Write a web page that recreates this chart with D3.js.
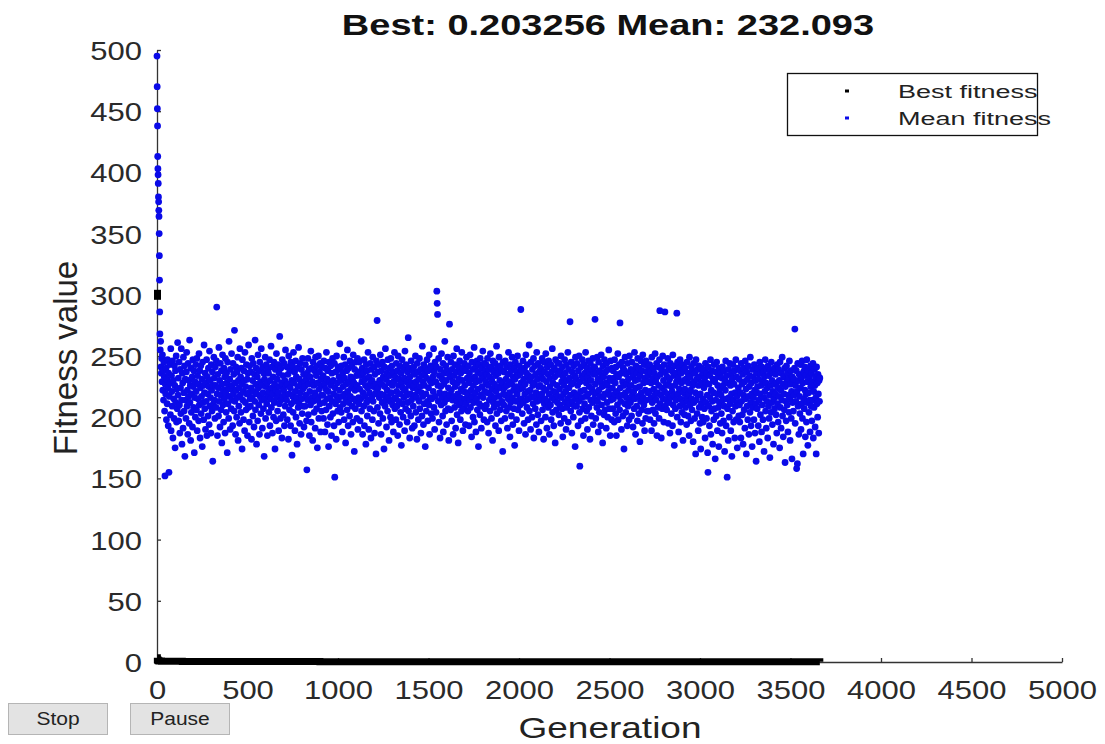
<!DOCTYPE html>
<html>
<head>
<meta charset="utf-8">
<script src="https://cdn.jsdelivr.net/npm/d3@7"></script>
<style>
  html, body { margin: 0; padding: 0; background: #fff; }
  svg { display: block; }
  text { font-family: "Liberation Sans", Arial, sans-serif; }
</style>
</head>
<body>
<svg id="chart" width="1105" height="744"></svg>
<script>
// ---- data -------------------------------------------------------------
// Axis ticks
const xTicks = [0, 500, 1000, 1500, 2000, 2500, 3000, 3500, 4000, 4500, 5000];
const yTicks = [0, 50, 100, 150, 200, 250, 300, 350, 400, 450, 500];

// Best fitness: generation at which the best value changed, and that value
const bestGen = [0, 1, 2, 4, 7, 12, 25, 60, 140, 380, 900, 1700, 2600, 3662];
const bestVal = [300, 3.4, 1.9, 1.35, 1.02, 0.81, 0.64, 0.52, 0.41, 0.33, 0.27, 0.23, 0.211, 0.203256];

// Mean fitness, generations 0..15 (one per generation)
const meanHead = [495, 470, 452, 438, 413, 403, 398, 391, 380, 376, 369, 364, 350, 332, 312, 286];

// Mean fitness from generation 16 onward, every second generation
const meanTail = [
268,255,262,241,236,248,229,251,222,238,214,245,233,205,152,227,219,240,198,231,211,247,224,193,236,155,217,243,228,202,256,189,234,221,209,246,183,230,215,199,242,226,175,238,212,250,196,223,207,261,
218,232,197,245,210,187,239,224,203,256,214,178,236,228,191,249,220,205,242,168,231,214,199,237,253,209,222,186,244,217,230,195,263,212,226,181,240,204,219,233,192,247,225,208,238,171,216,229,200,243,
221,206,248,189,234,215,227,197,252,210,238,183,224,242,203,217,231,176,245,212,226,198,259,220,207,236,190,228,213,247,185,233,219,201,240,225,194,254,209,230,216,187,243,222,205,237,164,226,211,249,
232,214,199,241,226,208,246,290,219,185,235,224,201,257,213,230,192,244,218,206,238,179,227,251,210,222,196,240,215,233,187,248,220,204,236,228,171,245,211,224,199,262,217,231,190,239,223,207,252,214,
226,193,244,219,235,205,271,213,228,186,241,222,200,237,216,249,181,230,209,224,195,256,218,233,204,240,227,174,247,214,221,198,238,230,189,253,212,225,206,243,219,231,185,236,208,259,220,196,242,215,
209,237,224,182,248,216,230,201,244,221,192,235,213,263,206,227,240,178,219,233,197,251,224,210,238,186,245,217,229,203,256,214,226,191,241,220,207,236,168,231,215,249,199,225,243,211,228,185,239,218,
236,204,221,247,193,230,215,258,208,224,241,187,219,233,200,245,212,227,174,239,222,197,252,216,231,205,243,220,189,236,211,266,225,199,240,214,228,183,247,217,234,202,222,244,193,230,209,255,218,226,
214,241,198,227,235,182,250,219,206,238,224,193,245,211,230,169,242,217,204,253,228,213,237,189,221,246,200,233,216,178,240,225,208,257,212,231,195,244,220,227,186,239,215,203,248,223,209,235,192,229,
225,209,243,218,231,197,157,236,214,248,202,227,239,185,221,233,210,254,196,240,216,229,181,245,213,226,204,238,220,191,249,217,234,207,242,175,228,214,250,199,223,237,211,244,188,231,218,205,241,226,
218,234,199,246,212,227,188,240,223,206,253,215,231,194,238,221,176,245,209,229,216,200,242,226,185,236,213,248,203,230,219,193,244,151,224,211,237,182,250,217,228,205,241,214,196,233,222,260,208,239,
230,204,242,217,188,236,225,211,249,198,232,219,243,179,227,214,238,206,255,221,193,240,212,229,201,246,217,233,186,224,242,209,231,196,251,215,228,172,239,222,207,245,213,234,199,226,248,190,237,216,
211,245,223,197,234,215,262,205,229,240,186,220,236,209,247,193,231,217,226,178,243,212,238,201,224,253,214,190,233,220,207,244,228,183,239,216,230,198,249,213,225,205,241,187,235,219,227,170,246,222,
279,208,237,224,195,243,216,230,203,251,219,186,238,227,212,245,199,233,218,174,241,225,209,256,214,231,192,236,222,205,247,217,228,181,240,213,234,200,248,220,196,242,226,210,237,188,229,215,253,207,
233,216,198,244,221,209,238,185,250,226,213,231,194,242,219,204,236,177,228,247,211,224,200,239,216,232,189,254,222,207,243,218,229,196,237,212,265,205,226,240,183,233,219,201,246,214,228,191,238,224,
209,241,226,193,235,218,250,204,229,216,182,244,222,237,198,231,213,248,207,225,239,187,220,234,201,258,217,229,194,243,211,226,236,176,240,219,205,232,247,213,197,238,224,210,251,186,230,216,242,203,
228,215,240,199,233,221,256,208,237,190,245,217,229,204,241,303,293,284,226,213,248,196,234,220,183,239,225,210,252,216,231,201,244,188,227,236,212,262,219,205,242,230,194,238,215,249,207,224,181,235,
276,218,233,206,245,222,197,239,214,229,186,250,217,234,208,243,225,191,237,213,256,202,228,219,179,241,231,210,246,216,198,236,223,205,253,212,230,189,240,221,207,244,226,215,194,238,211,249,220,232,
219,205,242,228,193,236,214,251,208,231,222,184,245,217,239,200,226,212,257,196,233,220,241,188,229,215,246,206,237,223,176,243,211,230,202,248,218,235,191,240,225,209,254,216,232,198,244,221,207,238,
229,243,210,235,196,248,220,226,187,239,214,233,205,252,218,241,199,230,223,181,246,212,237,208,227,216,244,193,234,221,258,203,240,225,211,236,189,249,217,230,206,242,224,197,238,213,228,172,245,219,
210,237,224,199,246,218,231,205,241,226,191,235,215,253,208,229,220,184,243,212,238,201,227,249,216,194,233,222,207,240,177,231,245,213,225,198,237,219,250,206,234,214,189,242,223,210,236,288,228,215,
238,203,224,246,212,231,195,240,219,227,186,251,214,236,208,243,221,198,234,215,259,205,230,222,190,245,217,233,200,239,226,211,248,183,228,216,242,207,235,220,194,253,213,231,202,244,225,188,237,218,
226,214,240,197,233,219,248,206,231,224,182,245,211,237,215,200,252,222,229,191,241,213,235,208,246,219,186,232,225,210,243,198,237,216,256,204,228,221,193,240,214,233,179,247,220,206,238,226,212,244,
217,235,202,244,223,210,238,195,250,216,229,207,241,184,233,219,226,199,247,212,236,221,190,243,208,230,215,253,196,239,224,211,232,278,218,205,245,227,187,237,213,228,200,242,220,209,234,176,249,216,
231,209,244,218,226,193,238,213,250,204,160,229,221,241,197,234,216,247,207,232,185,243,222,211,236,199,253,217,228,205,240,190,233,219,246,208,225,237,182,244,214,230,201,239,223,212,248,194,235,220,
215,241,280,227,199,236,220,208,249,213,231,188,245,222,204,238,217,229,193,251,210,234,225,179,242,216,233,202,247,219,206,237,228,191,244,212,226,200,239,221,255,207,232,218,185,246,214,230,198,240,
224,207,238,215,232,196,247,219,228,203,241,185,235,221,210,252,198,233,217,243,206,277,224,213,236,190,245,218,229,201,240,226,174,238,211,249,220,204,235,216,227,193,244,209,231,222,198,250,214,237,
212,239,226,201,245,218,233,192,238,221,207,253,215,230,186,242,224,209,236,197,248,217,231,203,240,225,180,234,213,246,220,206,238,195,251,216,228,210,243,189,232,222,199,246,214,237,205,229,220,241,
234,205,221,243,198,237,216,228,189,249,212,231,206,240,223,195,236,218,252,203,229,214,244,185,233,220,208,241,226,199,247,287,211,235,218,183,239,224,207,250,215,230,196,243,221,286,209,237,226,214,
206,233,219,248,195,227,240,212,231,187,244,216,225,203,238,221,193,251,210,234,218,177,242,226,207,236,214,229,285,200,245,219,232,188,240,223,209,247,215,196,236,228,204,243,212,181,238,220,230,202,
223,240,208,231,216,194,245,213,236,201,228,219,185,249,210,233,222,197,241,215,206,238,226,180,244,212,229,199,236,220,170,247,214,231,203,239,218,189,226,242,208,233,195,219,174,240,211,228,200,236,
215,196,239,224,207,232,183,244,212,228,199,236,218,171,155,241,209,227,193,234,216,247,186,222,205,238,213,178,231,220,198,243,207,229,166,237,214,201,245,219,189,226,233,208,176,240,212,223,195,236,
218,203,232,187,241,214,226,197,238,209,172,230,222,246,193,215,234,151,207,228,181,239,216,200,244,211,226,189,235,219,168,231,205,243,214,196,227,238,183,220,209,247,198,233,217,175,240,212,224,201,
231,210,196,238,220,183,244,213,227,202,235,178,218,240,206,229,191,246,215,223,170,237,209,231,198,242,217,186,225,234,204,249,212,193,228,219,176,239,208,233,216,198,243,222,187,230,211,164,236,220,
207,225,240,193,231,214,180,245,219,202,236,226,188,241,210,229,198,237,216,172,233,221,247,205,228,191,239,213,224,183,242,209,234,199,218,167,238,226,204,245,212,230,194,221,236,178,215,240,207,227,
219,235,202,228,187,243,211,224,196,239,217,230,175,245,208,222,191,236,214,249,201,227,184,233,219,206,240,163,225,213,197,242,229,210,236,188,218,231,204,246,215,181,227,238,199,221,166,233,212,229,
205,231,218,240,272,195,226,213,238,158,221,162,244,209,230,186,235,217,203,243,224,190,232,211,246,199,228,170,237,215,207,241,222,184,234,219,196,247,212,229,177,238,220,204,233,214,188,242,225,209,
236,197,229,214,244,183,221,208,239,226,192,233,216,170,241,211,228,200,235,219,187,230,213,232.093
];

const legendLabels = ["Best fitness", "Mean fitness"];
const buttonLabels = ["Stop", "Pause"];

// ---- build point lists ------------------------------------------------
const meanPoints = meanHead.map((v, i) => ({ gen: i, value: v }))
  .concat(meanTail.map((v, i) => ({ gen: 16 + 2 * i, value: v })));
const bestPoints = bestGen.map((g, i) => ({ gen: g, value: bestVal[i] }));

const lastBest = bestVal[bestVal.length - 1];
const lastMean = meanTail[meanTail.length - 1];

// ---- scales -----------------------------------------------------------
const svg = d3.select("#chart");
const x = d3.scaleLinear().domain([0, 5000]).range([157, 1062]);
const y = d3.scaleLinear().domain([0, 500]).range([662, 50]);

// text helper: anchored text with a vertical squash
function label(parent, str, tx, ty, size, sy, opts = {}) {
  return parent.append("text")
    .attr("transform", `translate(${tx},${ty}) scale(1,${sy})`)
    .attr("font-size", size)
    .attr("text-anchor", opts.anchor || "start")
    .attr("font-weight", opts.weight || "normal")
    .attr("fill", opts.fill || "#222")
    .text(str);
}

// ---- axes -------------------------------------------------------------
const axisColor = "#333";
const fmt = d3.format("d");
const gx = svg.append("g").attr("transform", `translate(0,${y(0)})`)
  .call(d3.axisBottom(x).tickValues(xTicks).tickFormat(fmt)
    .tickSizeInner(-4).tickSizeOuter(0).tickPadding(0));
const gy = svg.append("g").attr("transform", `translate(${x(0)},0)`)
  .call(d3.axisLeft(y).tickValues(yTicks).tickFormat(fmt)
    .tickSizeInner(-4).tickSizeOuter(0).tickPadding(0));

[gx, gy].forEach(g => {
  g.select(".domain").attr("stroke", axisColor).attr("stroke-width", 1.3);
  g.selectAll(".tick line").attr("stroke", axisColor).attr("stroke-width", 1.3);
  g.selectAll(".tick text")
    .attr("font-family", "Liberation Sans, Arial, sans-serif")
    .attr("fill", "#2a2a2a")
    .attr("font-size", 31)
    .attr("dy", null);
});
gx.selectAll(".tick text")
  .attr("y", null)
  .attr("text-anchor", "middle")
  .attr("transform", "translate(0,37) scale(1,0.86)");
gy.selectAll(".tick text")
  .attr("x", null)
  .attr("text-anchor", "end")
  .attr("transform", "translate(-15,9.5) scale(1,0.86)");

// ---- mean fitness points ---------------------------------------------
svg.append("g")
  .selectAll("circle")
  .data(meanPoints)
  .join("circle")
  .attr("cx", d => x(d.gen))
  .attr("cy", d => y(d.value))
  .attr("r", 3.4)
  .attr("fill", "#0a0ae8");

// ---- best fitness -----------------------------------------------------
const bestLine = d3.line()
  .x(d => x(d.gen))
  .y(d => y(d.value))
  .curve(d3.curveStepAfter);

svg.append("path")
  .datum(bestPoints.slice(1))
  .attr("d", bestLine)
  .attr("fill", "none")
  .attr("stroke", "#000")
  .attr("stroke-width", 7);

svg.append("rect")
  .attr("x", x(bestPoints[0].gen) - 3)
  .attr("y", y(bestPoints[0].value) - 5)
  .attr("width", 7)
  .attr("height", 10)
  .attr("fill", "#000");

// ---- title ------------------------------------------------------------
label(svg, `Best: ${lastBest} Mean: ${lastMean}`, 608, 35, 38, 0.8,
  { anchor: "middle", weight: "bold", fill: "#111" });

// ---- axis labels ------------------------------------------------------
label(svg, "Generation", 610, 738, 37, 0.82, { anchor: "middle", fill: "#222" });
svg.append("text")
  .attr("transform", "translate(77,358) rotate(-90)")
  .attr("font-size", 33)
  .attr("text-anchor", "middle")
  .attr("fill", "#222")
  .text("Fitness value");

// ---- legend -----------------------------------------------------------
const legend = svg.append("g");
legend.append("rect")
  .attr("x", 787.5).attr("y", 73.5)
  .attr("width", 250).attr("height", 62)
  .attr("fill", "none").attr("stroke", "#111").attr("stroke-width", 1.3);
const legendColors = ["#000", "#0a0ae8"];
legendLabels.forEach((t, i) => {
  const ly = 91 + i * 27;
  legend.append("rect")
    .attr("x", 845).attr("y", ly - 1.5)
    .attr("width", 4).attr("height", 3)
    .attr("fill", legendColors[i]);
  label(legend, t, 898, ly + 7, 27, 0.67, { fill: "#222" });
});

// ---- buttons ----------------------------------------------------------
const buttonX = [8, 130];
buttonLabels.forEach((t, i) => {
  const b = svg.append("g");
  b.append("rect")
    .attr("x", buttonX[i] + 0.5).attr("y", 703.5)
    .attr("width", 99).attr("height", 31)
    .attr("fill", "#e3e3e3").attr("stroke", "#b5b5b5").attr("stroke-width", 1);
  label(b, t, buttonX[i] + 50, 725, 21, 0.9, { anchor: "middle", fill: "#222" });
});
</script>
</body>
</html>
